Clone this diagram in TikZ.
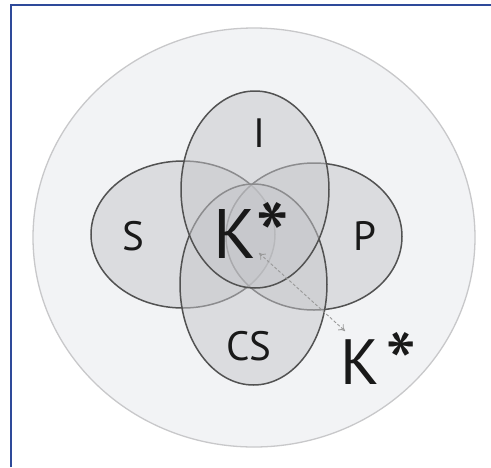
\documentclass[tikz,border=0pt]{standalone}
\usepackage{fontspec}
\setmainfont{PT Sans}
\usetikzlibrary{arrows.meta}
\definecolor{frameblue}{RGB}{46,74,154}
\definecolor{outerfill}{RGB}{242,243,245}
\definecolor{outerline}{RGB}{200,200,202}
\definecolor{vennfill}{RGB}{198,199,203}
\newcommand{\bigast}{\raisebox{-0.2em}{\scalebox{1.4}{*}}}
\begin{document}
\begin{tikzpicture}[x=1pt,y=-1pt,
  lbl/.style={text=black!90, inner sep=0pt, anchor=base},
  venn/.style={draw=black!68, line width=1.5pt, fill=vennfill, fill opacity=0.5}]
\useasboundingbox (0,0) rectangle (491,467);
\fill[white] (0,0) rectangle (491,467);
\draw[line width=2pt, draw=frameblue] (11,467) -- (11,5) -- (491,5);
\path[fill=outerfill, draw=outerline, line width=1.3pt] (254,237.5) ellipse [x radius=221, y radius=209.5];
\path[venn] (183,234.5) ellipse [x radius=92, y radius=73.5];
\path[venn] (314,236.5) ellipse [x radius=88, y radius=73.5];
\path[venn] (253.5,284.5) ellipse [x radius=73.5, y radius=100.5];
\path[venn] (255,189.5) ellipse [x radius=74, y radius=98.5];
\node[lbl, font=\fontsize{41}{41}\selectfont] (i) at (259,147) {I};
\node[lbl, font=\fontsize{41}{41}\selectfont] (s) at (133,250) {S};
\node[lbl, font=\fontsize{41}{41}\selectfont] (p) at (365,250) {P};
\node[lbl, font=\fontsize{41}{41}\selectfont] (cs) at (249,360) {CS};
\node[lbl, font=\fontsize{70}{70}\selectfont, anchor=base west] (k1) at (213,258) {K\bigast};
\node[lbl, font=\fontsize{64}{64}\selectfont, anchor=base west] (k2) at (340,384) {K\kern0.1em\bigast};
\coordinate (a1) at (259,253);
\coordinate (a2) at (345,331);
\draw[densely dashed, black!40, line width=0.9pt, <->, >={To[length=6pt,width=8pt]}] (a1) -- (a2);
\end{tikzpicture}
\end{document}
